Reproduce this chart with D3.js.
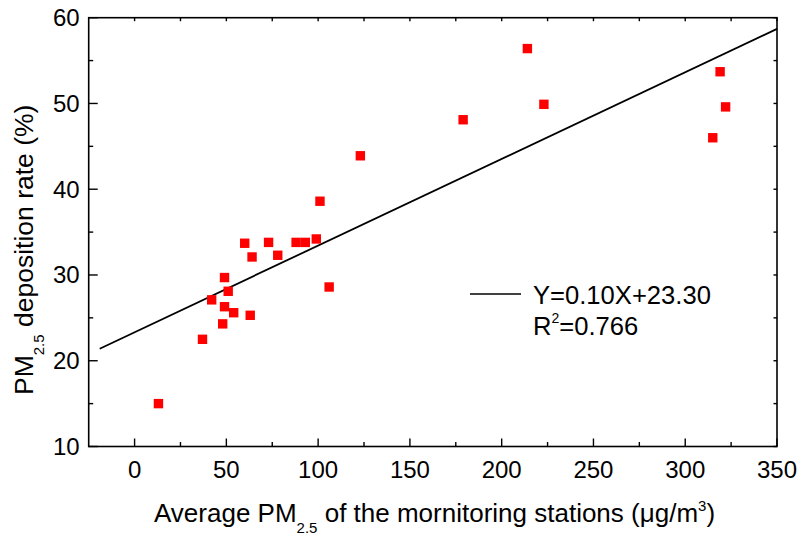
<!DOCTYPE html>
<html>
<head>
<meta charset="utf-8">
<script src="https://cdn.jsdelivr.net/npm/d3@7"></script>
<style>
  body { margin: 0; background: #fff; }
  text { font-family: "Liberation Sans", Arial, sans-serif; fill: #000; }
</style>
</head>
<body>
<div id="chart"></div>
<script>
// Data
var pmX = [13, 37, 42, 48, 49, 49, 51, 54, 60, 63, 64, 73, 78, 88, 93, 99, 101, 106, 123, 179, 214, 223, 315, 319, 322];
var rateY = [15.0, 22.5, 27.1, 24.3, 29.7, 26.3, 28.1, 25.6, 33.7, 25.3, 32.1, 33.8, 32.3, 33.8, 33.8, 34.2, 38.6, 28.6, 43.9, 48.1, 56.4, 49.9, 46.0, 53.7, 49.6];
var fitX = [-19, 350];
var fitY = [21.4, 58.7];
var xTicks = [0, 50, 100, 150, 200, 250, 300, 350];
var yTicks = [10, 20, 30, 40, 50, 60];

var width = 803, height = 535;
var plotL = 88.7, plotR = 777, plotT = 17.7, plotB = 446.5;

var svg = d3.select("#chart").append("svg")
    .attr("width", width)
    .attr("height", height);

var x = d3.scaleLinear().domain([-25, 350]).range([plotL, plotR]);
var y = d3.scaleLinear().domain([10, 60]).range([plotB, plotT]);

var minorX = d3.range(0, 351, 25);
var minorY = d3.range(10, 61, 5);

// frame
svg.append("rect")
    .attr("x", plotL).attr("y", plotT)
    .attr("width", plotR - plotL).attr("height", plotB - plotT)
    .attr("fill", "none").attr("stroke", "#000").attr("stroke-width", 1.6);

// ticks (inward, all four sides)
var tg = svg.append("g").attr("stroke", "#000").attr("stroke-width", 1.4);
minorX.forEach(function(v) {
    var len = v % 50 === 0 ? 8 : 4.5;
    tg.append("line").attr("x1", x(v)).attr("x2", x(v)).attr("y1", plotB).attr("y2", plotB - len);
    tg.append("line").attr("x1", x(v)).attr("x2", x(v)).attr("y1", plotT).attr("y2", plotT + 3.5);
});
minorY.forEach(function(v) {
    var len = v % 10 === 0 ? 9 : 4.5;
    tg.append("line").attr("y1", y(v)).attr("y2", y(v)).attr("x1", plotL).attr("x2", plotL + len);
    tg.append("line").attr("y1", y(v)).attr("y2", y(v)).attr("x1", plotR).attr("x2", plotR - 3.5);
});

// tick labels
svg.append("g").selectAll("text").data(xTicks).enter().append("text")
    .attr("x", function(d) { return x(d); })
    .attr("y", plotB + 31)
    .attr("text-anchor", "middle")
    .attr("font-size", 24)
    .text(function(d) { return d; });

svg.append("g").selectAll("text").data(yTicks).enter().append("text")
    .attr("x", plotL - 9)
    .attr("y", function(d) { return y(d) + 8.5; })
    .attr("text-anchor", "end")
    .attr("font-size", 24)
    .text(function(d) { return d; });

// fit line
svg.append("line")
    .attr("x1", x(fitX[0])).attr("y1", y(fitY[0]))
    .attr("x2", x(fitX[1])).attr("y2", y(fitY[1]))
    .attr("stroke", "#000").attr("stroke-width", 1.8);

// points
svg.append("g").selectAll("rect").data(pmX).enter().append("rect")
    .attr("x", function(d) { return x(d) - 4.7; })
    .attr("y", function(d, i) { return y(rateY[i]) - 4.7; })
    .attr("width", 9.4).attr("height", 9.4)
    .attr("fill", "#ff0000");

// legend
svg.append("line")
    .attr("x1", 470).attr("x2", 521).attr("y1", 294).attr("y2", 294)
    .attr("stroke", "#000").attr("stroke-width", 1.6);
svg.append("text").attr("x", 533).attr("y", 304).attr("font-size", 25.6).text("Y=0.10X+23.30");
var r2 = svg.append("text").attr("x", 533).attr("y", 335).attr("font-size", 25.6);
r2.append("tspan").text("R");
r2.append("tspan").attr("dy", -12).attr("font-size", 14).text("2");
r2.append("tspan").attr("dy", 12).text("=0.766");

// axis titles
var xt = svg.append("text").attr("x", 154).attr("y", 522).attr("font-size", 26);
xt.append("tspan").text("Average PM");
xt.append("tspan").attr("dy", 11).attr("font-size", 15).text("2.5");
xt.append("tspan").attr("dy", -11).text(" of the mornitoring stations (\u03bcg/m");
xt.append("tspan").attr("dy", -11).attr("font-size", 15).text("3");
xt.append("tspan").attr("dy", 11).text(")");

var yt = svg.append("text")
    .attr("transform", "translate(33,395) rotate(-90)")
    .attr("font-size", 26.5);
yt.append("tspan").text("PM");
yt.append("tspan").attr("dy", 11).attr("font-size", 15).text("2.5");
yt.append("tspan").attr("dy", -11).text(" deposition rate (%)");
</script>
</body>
</html>
